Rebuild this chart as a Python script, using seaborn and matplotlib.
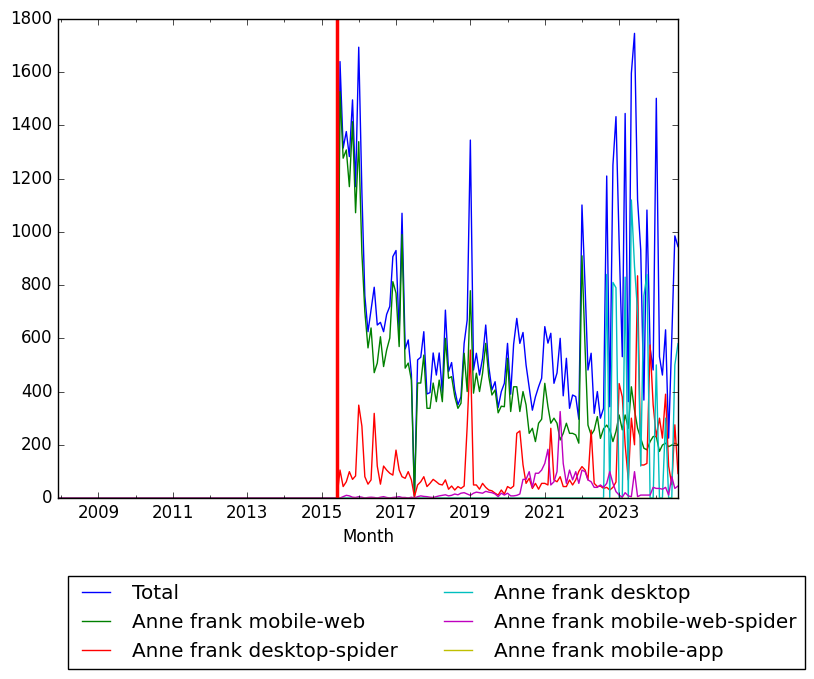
import numpy as np
import pandas as pd
import matplotlib
matplotlib.use("Agg")
import matplotlib.pyplot as plt
import matplotlib.dates as mdates
import seaborn as sns

# ---------------- data (monthly, from 2015-07 to 2024-08) ----------------
start_month = "2007-12-01"
data_start = "2015-07-01"
end_month = "2024-08-01"
marker_date = "2015-06-04"

total = [1640, 1315, 1377, 1283, 1496, 1170, 1694, 1150, 760, 625,
         706, 792, 650, 660, 625, 690, 720, 907, 930, 620,
         1070, 560, 594, 465, 5, 519, 529, 625, 391, 396,
         545, 462, 545, 394, 706, 475, 509, 406, 350, 381,
         581, 669, 1345, 481, 544, 462, 525, 650, 494, 406,
         437, 340, 400, 431, 581, 390, 578, 675, 581, 622,
         500, 415, 330, 380, 418, 450, 644, 582, 619, 431,
         470, 600, 384, 525, 337, 387, 381, 296, 1101, 790,
         481, 544, 318, 400, 300, 337, 1210, 343, 1251, 1433,
         960, 531, 1445, 362, 1596, 1746, 1120, 932, 368, 1082,
         564, 481, 1502, 531, 462, 632, 225, 600, 985, 945]

mobile_web = [1527, 1277, 1308, 1170, 1414, 1072, 1339, 920, 700, 564,
              639, 471, 507, 606, 494, 556, 601, 813, 770, 569,
              990, 488, 507, 443, 3, 432, 432, 537, 337, 337,
              432, 362, 443, 362, 600, 450, 456, 381, 337, 356,
              544, 400, 779, 394, 469, 400, 469, 581, 456, 387,
              406, 320, 345, 343, 525, 325, 418, 418, 325, 400,
              350, 243, 262, 212, 281, 296, 431, 343, 281, 300,
              281, 218, 243, 281, 243, 243, 237, 206, 910, 560,
              274, 237, 255, 306, 224, 260, 274, 256, 212, 250,
              312, 256, 312, 262, 418, 331, 262, 224, 187, 181,
              212, 231, 231, 175, 199, 206, 193, 199, 206, 200]

desktop_spider = [105, 43, 61, 99, 70, 83, 349, 270, 80, 52,
                  68, 318, 120, 52, 120, 105, 93, 86, 180, 105,
                  80, 74, 99, 68, 5, 49, 61, 80, 43, 55,
                  70, 61, 52, 49, 68, 33, 45, 30, 43, 36,
                  45, 270, 556, 49, 49, 33, 55, 40, 30, 27,
                  18, 11, 30, 15, 43, 36, 45, 243, 252, 125,
                  55, 74, 36, 55, 33, 55, 55, 49, 262, 68,
                  61, 80, 43, 43, 68, 49, 68, 100, 118, 105,
                  68, 255, 55, 43, 45, 36, 40, 30, 40, 60,
                  430, 380, 200, 68, 300, 200, 835, 124, 124, 130,
                  575, 350, 230, 300, 225, 390, 120, 50, 275, 92]

desktop = [0] * 86 + [840, 0, 810, 790, 0, 0, 830, 0, 1120, 870,
                      700, 120, 760, 840, 0, 0, 500, 0, 0, 300,
                      0, 0, 500, 580]

mobile_web_spider = [0, 5, 10, 8, 3, 2, 5, 3, 0, 2,
                     3, 2, 0, 3, 5, 2, 0, 2, 3, 5,
                     2, 2, 0, 3, 0, 5, 8, 6, 5, 3,
                     2, 5, 8, 10, 12, 8, 10, 15, 12, 18,
                     20, 15, 10, 18, 22, 20, 18, 25, 22, 20,
                     15, 5, 18, 11, 18, 8, 8, 10, 15, 70,
                     70, 99, 40, 93, 93, 105, 130, 183, 49, 61,
                     99, 325, 130, 55, 105, 68, 99, 55, 105, 99,
                     68, 61, 40, 40, 49, 40, 55, 99, 55, 24,
                     11, 3, 20, 8, 5, 99, 5, 11, 11, 11,
                     11, 40, 36, 36, 33, 40, 11, 80, 36, 45]

mobile_app = [0] * len(total)

series_names = ["Total", "Anne frank mobile-web", "Anne frank desktop-spider",
                "Anne frank desktop", "Anne frank mobile-web-spider",
                "Anne frank mobile-app"]
series_values = [total, mobile_web, desktop_spider, desktop,
                 mobile_web_spider, mobile_app]
series_colors = ["b", "g", "r", "c", "m", "y"]

odd_years = [2009, 2011, 2013, 2015, 2017, 2019, 2021, 2023]
y_ticks = [0, 200, 400, 600, 800, 1000, 1200, 1400, 1600, 1800]

# ---------------- build frame ----------------
months = pd.date_range(start_month, end_month, freq="MS")
n_pre = len(pd.date_range(start_month, data_start, freq="MS")) - 1
df = pd.DataFrame({"Month": months})
for name, vals in zip(series_names, series_values):
    df[name] = [0] * n_pre + list(vals)

# ---------------- plot ----------------
plt.style.use("classic")
fig = plt.figure(figsize=(8.14, 6.79), dpi=100)
ax = fig.add_axes([58 / 814, 1 - 498 / 679, 620 / 814, 479 / 679])

for name, color in zip(series_names, series_colors):
    sns.lineplot(data=df, x="Month", y=name, color=color, label=name,
                 linewidth=1.0, ax=ax)

ax.axvline(pd.Timestamp(marker_date), color="r", linewidth=2.5)

ax.set_xlim(months[0], months[-1])
ax.set_ylim(0, 1800)
ax.set_yticks(y_ticks)
ax.xaxis.set_major_locator(matplotlib.ticker.FixedLocator(
    [mdates.date2num(pd.Timestamp(f"{y}-01-01")) for y in odd_years]))
ax.xaxis.set_minor_locator(mdates.YearLocator(1))
ax.xaxis.set_major_formatter(mdates.DateFormatter("%Y"))
ax.set_xlabel("Month")
ax.set_ylabel("")
ax.tick_params(axis="both", labelsize=12)

leg = ax.legend(loc="upper left", ncol=2, fontsize="large",
                bbox_to_anchor=(68 / 814, 1 - 576 / 679),
                bbox_transform=fig.transFigure, borderaxespad=0)

fig.savefig("out.png", dpi=100)
